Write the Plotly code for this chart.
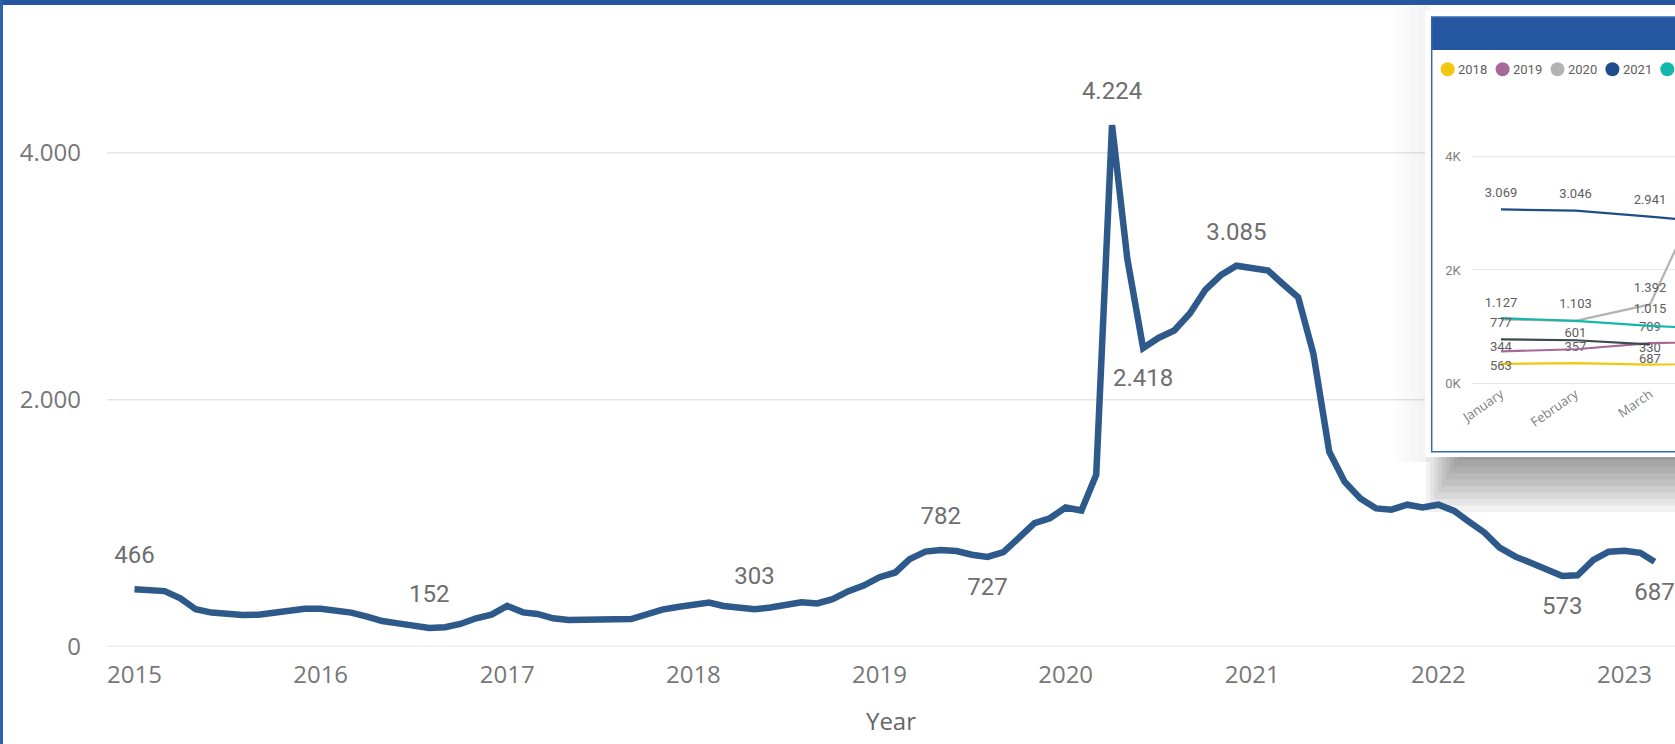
import pandas as pd
import plotly.graph_objects as go

W, H = 1675, 744

# ---------------- data ----------------
start_month = "2015-01-01"
monthly_values = [
    466, 458, 450, 392, 303, 276, 265, 257, 258, 276, 297, 308,      # 2015
    308, 297, 276, 243, 208, 189, 168, 152, 158, 184, 230, 259,      # 2016
    330, 278, 265, 230, 216, 222, 222, 222, 224, 265, 300, 321,      # 2017
    344, 357, 330, 318, 303, 318, 335, 360, 350, 385, 450, 495,      # 2018
    563, 601, 709, 770, 782, 775, 745, 727, 765, 880, 1000, 1040,    # 2019
    1127, 1103, 1392, 4224, 3140, 2418, 2500, 2560, 2700, 2890, 3010, 3085,  # 2020
    3069, 3046, 2941, 2830, 2370, 1579, 1336, 1201, 1120, 1110, 1150, 1128,  # 2021
    1150, 1100, 1015, 925, 802, 729, 680, 627, 573, 578, 702, 769,   # 2022
    777, 760, 687,                                                   # 2023
]
year_ticks = [2015, 2016, 2017, 2018, 2019, 2020, 2021, 2022, 2023]
y_ticks = [0, 2000, 4000]

# labelled points on the main chart: month index -> position
main_labels = {0: "top center", 19: "top center", 40: "top center", 52: "top center",
               55: "bottom center", 63: "top center", 65: "bottom center",
               71: "top center", 92: "bottom center", 98: "bottom center"}

# inset (values per month of each year, taken from the same series)
months = ["January", "February", "March", "April", "May", "June", "July",
          "August", "September", "October", "November", "December"]
inset_years = [2018, 2019, 2020, 2021, 2022, 2023]
inset_colors = ["#F2C80F", "#A66999", "#B3B3B3", "#1F4E8C", "#14B8AA", "#3B4A4C"]
inset_labels = {
    2018: {0: "top center", 1: "top center", 2: "top center"},
    2019: {0: "bottom center", 1: "top center", 2: "top center"},
    2020: {0: "top center", 1: "top center", 2: "top center"},
    2021: {0: "top center", 1: "top center", 2: "top center"},
    2022: {2: "top center"},
    2023: {0: "top center", 2: "bottom center"},
}
inset_y_ticks = [0, 2000, 4000]

# ---------------- geometry helpers (layout only) ----------------
PLOT_L = 107.0
Y0_PX = 646.7
PX_PER_UNIT = 0.1235
PX_JAN2015 = 134.5
PX_PER_DAY = 186.25 / 365.25
T_REF = pd.Timestamp("2015-01-01")


def px2date(px):
    return T_REF + pd.Timedelta(days=(px - PX_JAN2015) / PX_PER_DAY)


def py2val(py):
    return (Y0_PX - py) / PX_PER_UNIT


def fmt(v):
    return f"{v:,}".replace(",", ".")


dates = pd.date_range(start_month, periods=len(monthly_values), freq="MS")

fig = go.Figure()

# ---------------- main series ----------------
main_text = [fmt(v) if i in main_labels else "" for i, v in enumerate(monthly_values)]
main_pos = [main_labels.get(i, "top center") for i in range(len(monthly_values))]
fig.add_trace(go.Scatter(
    x=dates, y=monthly_values, mode="lines+markers+text",
    line=dict(color="#2D5A8A", width=6.5),
    marker=dict(size=30, color="rgba(0,0,0,0)"),
    text=main_text, textposition=main_pos,
    textfont=dict(family="Roboto", size=24, color="#6E6E6E"),
    hoverinfo="skip", showlegend=False, cliponaxis=False,
))

# ---------------- inset series ----------------
for yr, col in zip(inset_years, inset_colors):
    k = (yr - 2015) * 12
    vals = monthly_values[k:k + 12]
    labs = inset_labels.get(yr, {})
    fig.add_trace(go.Scatter(
        x=months[:len(vals)], y=vals, mode="lines+markers+text",
        xaxis="x2", yaxis="y2",
        line=dict(color=col, width=2.2),
        marker=dict(size=13, color="rgba(0,0,0,0)"),
        text=[fmt(v) if i in labs else "" for i, v in enumerate(vals)],
        textposition=[labs.get(i, "top center") for i in range(len(vals))],
        textfont=dict(family="Roboto", size=13, color="#605E5C"),
        hoverinfo="skip", showlegend=False, name=str(yr),
    ))

# ---------------- decorations ----------------
shapes = []
# main gridlines
for v in y_ticks:
    shapes.append(dict(type="line", xref="x", yref="y", layer="below",
                       x0=px2date(90), x1=px2date(1700), y0=v, y1=v,
                       line=dict(color="#E6E6E6", width=2 if v == 0 else 1.5)))
# faint left shadow of the inset
for k in range(4):
    shapes.append(dict(type="rect", xref="x", yref="y", layer="below",
                       x0=px2date(1395 + 8 * k), x1=px2date(1430),
                       y0=py2val(462), y1=py2val(6),
                       fillcolor="rgba(0,0,0,0.012)", line=dict(width=0)))
# bottom shadow of the inset
for k in range(9):
    shapes.append(dict(type="rect", xref="x", yref="y", layer="below",
                       x0=px2date(1426 + 4 * k), x1=px2date(1700),
                       y0=py2val(512 - 6.5 * k), y1=py2val(452),
                       fillcolor="rgba(0,0,0,0.05)", line=dict(width=0)))
# inset white card
shapes.append(dict(type="rect", xref="x", yref="y", layer="below",
                   x0=px2date(1425), x1=px2date(1700), y0=py2val(457), y1=py2val(11),
                   fillcolor="white", line=dict(width=0)))
# inset header bar
shapes.append(dict(type="rect", xref="x", yref="y", layer="below",
                   x0=px2date(1431.7), x1=px2date(1700), y0=py2val(50), y1=py2val(17),
                   fillcolor="#2457A0", line=dict(width=0)))
# inset border
shapes.append(dict(type="rect", xref="x", yref="y", layer="below",
                   x0=px2date(1431.7), x1=px2date(1700), y0=py2val(451.7), y1=py2val(17),
                   fillcolor="rgba(0,0,0,0)", line=dict(color="#3A68AE", width=1.5)))
# inset legend
annotations = []
for i, (yr, col) in enumerate(zip(inset_years, inset_colors)):
    cx = 1447.7 + 54.9 * i
    cy = 69.3
    if cx - 7 > W:
        continue
    shapes.append(dict(type="circle", xref="x", yref="y", layer="below",
                       x0=px2date(cx - 7), x1=px2date(cx + 7),
                       y0=py2val(cy + 7), y1=py2val(cy - 7),
                       fillcolor=col, line=dict(width=0)))
    if cx + 8.5 + 30 < W:
        annotations.append(dict(xref="paper", yref="paper", x=(cx + 8.5) / W, y=1 - cy / H,
                                xanchor="left", yanchor="middle", showarrow=False,
                                text=str(yr),
                                font=dict(family="Roboto", size=13, color="#605E5C")))
# outer frame of the visual
shapes.append(dict(type="rect", xref="paper", yref="paper", layer="above",
                   x0=0, x1=1, y0=1 - 5 / H, y1=1, fillcolor="#2457A0", line=dict(width=0)))
shapes.append(dict(type="rect", xref="paper", yref="paper", layer="above",
                   x0=0, x1=3 / W, y0=0, y1=1, fillcolor="#2D62AE", line=dict(width=0)))

tick_font = dict(family="Open Sans", size=24, color="#777777")

fig.update_layout(
    width=W,
    margin=dict(l=0, r=0, t=0, b=0, autoexpand=False),
    paper_bgcolor="white", plot_bgcolor="rgba(0,0,0,0)",
    separators=",.",
    showlegend=False,
    shapes=shapes, annotations=annotations,
    xaxis=dict(
        type="date", domain=[PLOT_L / W, 1.0],
        range=[px2date(PLOT_L), px2date(W)],
        tickvals=[pd.Timestamp(f"{y}-01-01") for y in year_ticks],
        ticktext=[str(y) for y in year_ticks],
        showgrid=False, zeroline=False, showline=False, ticks="",
        tickfont=tick_font, ticklabelstandoff=11,
        title=dict(text="Year", font=dict(family="Open Sans", size=24, color="#666666"),
                   standoff=24),
        anchor="y",
    ),
    yaxis=dict(
        domain=[1 - Y0_PX / H, 1.0], range=[0, py2val(0)],
        tickvals=y_ticks, tickformat=",d",
        showgrid=False, zeroline=False, showline=False, ticks="",
        tickfont=tick_font, ticklabelstandoff=25, anchor="x",
    ),
    xaxis2=dict(
        type="category", categoryorder="array", categoryarray=months,
        domain=[1471.7 / W, 1.0], range=[-0.393, 2.336], anchor="y2",
        showgrid=False, zeroline=False, showline=False, ticks="",
        tickangle=-35, tickfont=dict(family="Open Sans", size=13, color="#808080"),
    ),
    yaxis2=dict(
        domain=[1 - 383.3 / H, 1 - 100 / H], range=[0, 5000], anchor="x2",
        tickvals=inset_y_ticks, ticktext=[f"{v // 1000}K" for v in inset_y_ticks],
        showgrid=True, gridcolor="#E6E6E6", gridwidth=1,
        zeroline=True, zerolinecolor="#E6E6E6", zerolinewidth=1,
        showline=False, ticks="",
        tickfont=dict(family="Roboto", size=13, color="#808080"), ticklabelstandoff=10,
    ),
)

fig.write_html(
    "out.html",
    config={"displayModeBar": False},
    default_height=f"{H}px; position:absolute; left:0px; top:0px",
    post_script="document.body.style.margin='0';document.body.style.overflow='hidden';",
)
